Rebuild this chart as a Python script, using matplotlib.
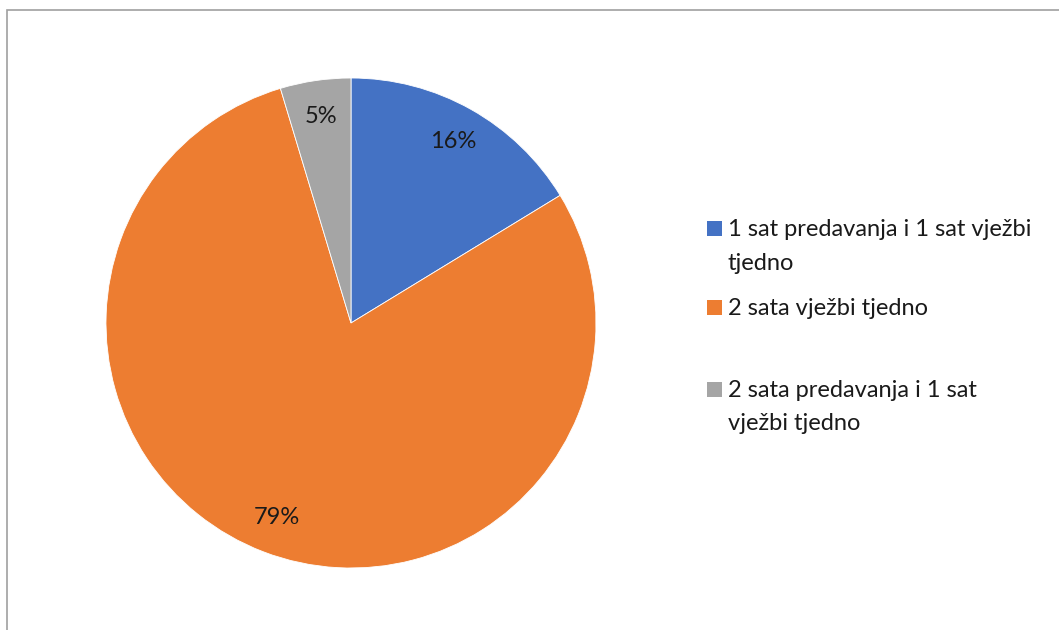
import matplotlib.pyplot as plt
from matplotlib.patches import Rectangle

labels = ["1 sat predavanja i 1 sat vježbi\ntjedno",
          "2 sata vježbi tjedno",
          "2 sata predavanja i 1 sat\nvježbi tjedno"]
counts = [7, 34, 2]   # gives 16%, 79%, 5%
colors = ["#4472C4", "#ED7D31", "#A5A5A5"]

plt.rcParams['font.family'] = ['Lato', 'DejaVu Sans']

W, H = 1059, 630
fig = plt.figure(figsize=(W / 100, H / 100), dpi=100)

# outer frame (cut off at right and bottom like the original)
fig.patches.append(Rectangle((7 / W, -0.1), 1.2, 1.1 - 10 / H, transform=fig.transFigure,
                             fill=False, edgecolor="#A0A0A0", linewidth=1.2, clip_on=False))

# pie centre ~ (351, 323) px, radius 245 px
ax = fig.add_axes([106 / W, 62 / H, 490 / W, 490 / H])
ax.pie(counts, colors=colors, startangle=90, counterclock=False,
       autopct='%.0f%%', pctdistance=0.85,
       wedgeprops=dict(edgecolor="white", linewidth=0.6),
       textprops=dict(fontsize=17, color="#1a1a1a"))
ax.set_xlim(-1, 1)
ax.set_ylim(-1, 1)
ax.set_aspect('equal')
ax.axis('off')

# legend, placed by hand to keep Excel's uneven spacing
baselines = [236, 315, 397]   # first-line baselines in px from top
step = 33.5
for lab, col, y in zip(labels, colors, baselines):
    fig.patches.append(Rectangle((707 / W, (H - y) / H), 15 / W, 15 / H,
                                 transform=fig.transFigure, facecolor=col, edgecolor='none'))
    # va='baseline' aligns the last line, so shift down by the extra lines
    last = y + step * lab.count('\n')
    fig.text(728 / W, (H - last) / H, lab, fontsize=17, color="#1a1a1a",
             va='baseline', ha='left', linespacing=1.75)

fig.savefig("out.png", dpi=100)
